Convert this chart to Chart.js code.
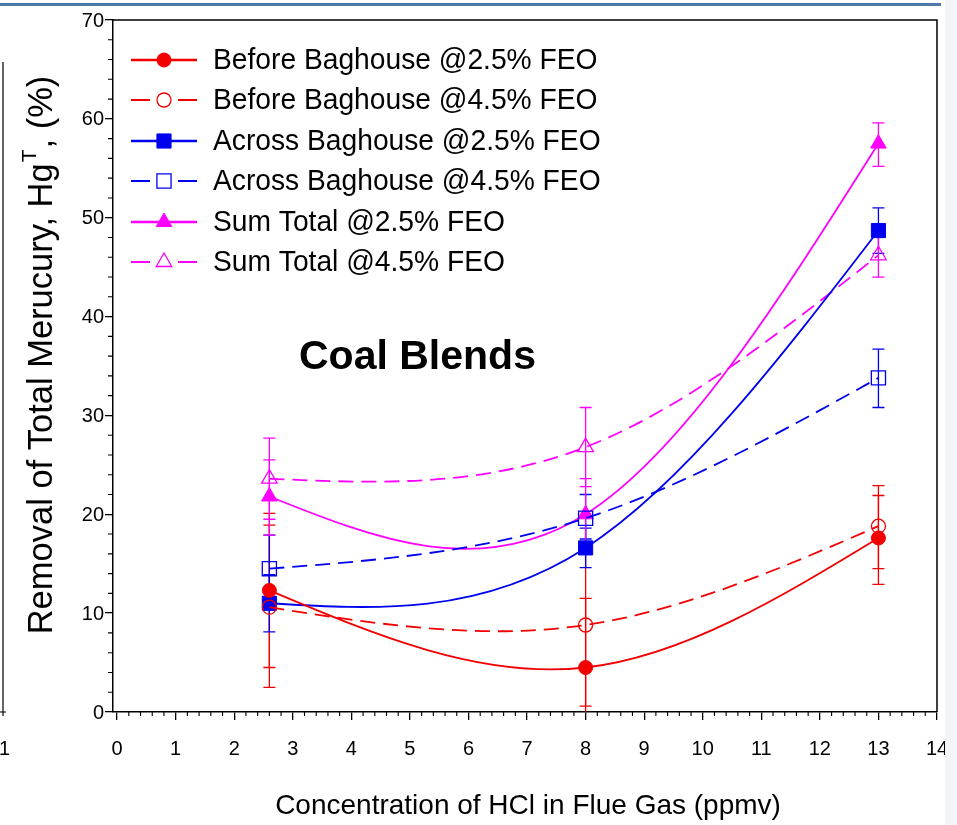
<!DOCTYPE html>
<html><head><meta charset="utf-8">
<script src="https://cdn.jsdelivr.net/npm/chart.js@4.4.1/dist/chart.umd.min.js"></script>
<style>html,body{margin:0;padding:0;background:#fff;overflow:hidden}#wrap{width:957px;height:825px;position:relative}</style>
</head><body><div id="wrap"><canvas id="c" width="957" height="825"></canvas></div>
<script>
// ---- data ----
const hclPpmv = [2.6, 8, 13];

const seriesNames = [
  'Before Baghouse @2.5% FEO',
  'Before Baghouse @4.5% FEO',
  'Across Baghouse @2.5% FEO',
  'Across Baghouse @4.5% FEO',
  'Sum Total @2.5% FEO',
  'Sum Total @4.5% FEO'
];

const beforeBag25     = [12.3, 4.5, 17.6];
const beforeBag25Low  = [4.5, -2.5, 12.9];
const beforeBag25High = [20.1, 11.5, 22.9];

const beforeBag45     = [10.6, 8.8, 18.8];
const beforeBag45Low  = [2.5, 0.6, 14.5];
const beforeBag45High = [18.9, 17.0, 21.9];

const acrossBag25     = [11.0, 16.6, 48.7];
const acrossBag25Low  = [8.1, 14.6, 46.4];
const acrossBag25High = [13.9, 18.6, 51.0];

const acrossBag45     = [14.5, 19.6, 33.8];
const acrossBag45Low  = [11.1, 17.5, 30.8];
const acrossBag45High = [17.9, 22.0, 36.7];

const sumTotal25      = [21.8, 20.0, 57.5];
const sumTotal25Low   = [17.9, 16.4, 55.2];
const sumTotal25High  = [25.5, 23.6, 59.6];

const sumTotal45      = [23.6, 26.8, 46.2];
const sumTotal45Low   = [19.5, 22.8, 44.0];
const sumTotal45High  = [27.7, 30.8, 48.4];

const xTickValues = [0,1,2,3,4,5,6,7,8,9,10,11,12,13,14];
const xTickLabels = ['0','1','2','3','4','5','6','7','8','9','10','11','12','13','14'];
const yTickValues = [0,10,20,30,40,50,60,70];
const yTickLabels = ['0','10','20','30','40','50','60','70'];

const xTitle = 'Concentration of HCl in Flue Gas (ppmv)';
const yTitleMain = 'Removal of Total Merucury, Hg';
const yTitleSup = 'T';
const yTitleEnd = ', (%)';
const annotationText = 'Coal Blends';

// ---- styles ----
const RED = '#f20000', BLUE = '#0000f0', MAG = '#ff00ff';
const FONT = "'Liberation Sans', Arial, sans-serif";
const styles = [
  {color: RED,  dash: [],      pointStyle: 'circle',   radius: 7,  filled: true},
  {color: RED,  dash: [15, 8], pointStyle: 'circle',   radius: 7,  filled: false},
  {color: BLUE, dash: [],      pointStyle: 'rect',     radius: 10, filled: true},
  {color: BLUE, dash: [15, 8], pointStyle: 'rect',     radius: 10, filled: false},
  {color: MAG,  dash: [],      pointStyle: 'triangle', radius: 9,  filled: true},
  {color: MAG,  dash: [15, 8], pointStyle: 'triangle', radius: 9,  filled: false}
];
const seriesValues = [beforeBag25, beforeBag45, acrossBag25, acrossBag45, sumTotal25, sumTotal45];
const seriesLow = [beforeBag25Low, beforeBag45Low, acrossBag25Low, acrossBag45Low, sumTotal25Low, sumTotal45Low];
const seriesHigh = [beforeBag25High, beforeBag45High, acrossBag25High, acrossBag45High, sumTotal25High, sumTotal45High];

const datasets = seriesNames.map((name, k) => {
  const s = styles[k];
  return {
    label: name,
    data: hclPpmv.map((x, i) => ({x: x, y: seriesValues[k][i]})),
    errLow: seriesLow[k],
    errHigh: seriesHigh[k],
    showLine: true,
    tension: 0.4,
    borderColor: s.color,
    borderWidth: 1.8,
    borderDash: s.dash,
    pointStyle: s.pointStyle,
    pointRadius: s.radius,
    pointHoverRadius: s.radius,
    pointBackgroundColor: s.filled ? s.color : 'rgba(0,0,0,0)',
    pointBorderColor: s.color,
    pointBorderWidth: s.filled ? 1 : 1.3,
    fill: false
  };
});

// natural cubic spline through the points (SigmaPlot-style spline curve)
const splinePlugin = {
  id: 'naturalSpline',
  beforeDatasetDraw(chart, args) {
    const meta = args.meta;
    const line = meta.dataset;
    const pts = meta.data;
    if (!line || pts.length < 3) return;
    line.updateControlPoints(chart.chartArea, meta.iScale.axis);
    const n = pts.length;
    const xs = pts.map(p => p.x), ys = pts.map(p => p.y);
    const h = [], d = [];
    for (let i = 0; i < n - 1; i++) { h[i] = xs[i+1] - xs[i]; d[i] = (ys[i+1] - ys[i]) / h[i]; }
    const a = [], b = [], c = [], r = [];
    for (let i = 1; i < n - 1; i++) { a.push(h[i-1]); b.push(2 * (h[i-1] + h[i])); c.push(h[i]); r.push(6 * (d[i] - d[i-1])); }
    const m = b.length;
    for (let i = 1; i < m; i++) { const w = a[i] / b[i-1]; b[i] -= w * c[i-1]; r[i] -= w * r[i-1]; }
    const sol = new Array(m);
    for (let i = m - 1; i >= 0; i--) sol[i] = (r[i] - (i < m - 1 ? c[i] * sol[i+1] : 0)) / b[i];
    const M = new Array(n).fill(0);
    for (let i = 0; i < m; i++) M[i+1] = sol[i];
    const slope = [];
    for (let i = 0; i < n - 1; i++) slope[i] = d[i] - h[i] * (2 * M[i] + M[i+1]) / 6;
    slope[n-1] = d[n-2] + h[n-2] * (M[n-2] + 2 * M[n-1]) / 6;
    for (let i = 0; i < n - 1; i++) {
      pts[i].cp2x = xs[i] + h[i] / 3; pts[i].cp2y = ys[i] + slope[i] * h[i] / 3;
      pts[i+1].cp1x = xs[i+1] - h[i] / 3; pts[i+1].cp1y = ys[i+1] - slope[i+1] * h[i] / 3;
    }
    line._pointsUpdated = true;
    line._path = undefined;
  }
};

const errorBarPlugin = {
  id: 'errorBars',
  beforeDatasetsDraw(chart) {
    const ctx = chart.ctx, area = chart.chartArea;
    const xs = chart.scales.x, ys = chart.scales.y;
    ctx.save();
    ctx.beginPath(); ctx.rect(area.left, area.top, area.right - area.left, area.bottom - area.top); ctx.clip();
    chart.data.datasets.forEach(ds => {
      ctx.strokeStyle = ds.borderColor;
      ctx.lineWidth = 1.3;
      ds.data.forEach((p, i) => {
        const px = xs.getPixelForValue(p.x);
        const lo = ys.getPixelForValue(ds.errLow[i]);
        const hi = ys.getPixelForValue(ds.errHigh[i]);
        ctx.beginPath();
        ctx.moveTo(px, lo); ctx.lineTo(px, hi);
        ctx.moveTo(px - 6, lo); ctx.lineTo(px + 6, lo);
        ctx.moveTo(px - 6, hi); ctx.lineTo(px + 6, hi);
        ctx.stroke();
      });
    });
    ctx.restore();
  }
};

const decorPlugin = {
  id: 'decor',
  afterDraw(chart) {
    const ctx = chart.ctx, area = chart.chartArea;
    const xs = chart.scales.x, ys = chart.scales.y;
    ctx.save();
    // frame top/right
    ctx.strokeStyle = '#000'; ctx.lineWidth = 1.5;
    ctx.beginPath();
    ctx.moveTo(area.left, area.top); ctx.lineTo(area.right, area.top); ctx.lineTo(area.right, area.bottom);
    ctx.stroke();
    // minor ticks
    ctx.lineWidth = 1.1;
    ctx.beginPath();
    for (let i = 1; i < 70; i++) {
      if (i % 5 === 0) continue;
      const px = xs.getPixelForValue(i / 5);
      ctx.moveTo(px, area.bottom); ctx.lineTo(px, area.bottom + 4);
    }
    for (let j = 1; j < 35; j++) {
      if (j % 5 === 0) continue;
      const py = ys.getPixelForValue(j * 2);
      ctx.moveTo(area.left, py); ctx.lineTo(area.left - 5, py);
    }
    ctx.stroke();

    // tick labels
    ctx.fillStyle = '#000';
    ctx.font = '20px ' + FONT; ctx.textBaseline = 'middle';
    ctx.textAlign = 'center';
    xTickValues.forEach((v, i) => {
      ctx.fillText(xTickLabels[i], xs.getPixelForValue(v), 749);
    });
    ctx.textAlign = 'right';
    yTickValues.forEach((v, i) => {
      ctx.fillText(yTickLabels[i], 104, ys.getPixelForValue(v) + 1);
    });

    // y-axis title with superscript
    ctx.save();
    ctx.translate(52, 355);
    ctx.rotate(-Math.PI / 2);
    ctx.textBaseline = 'alphabetic';
    ctx.textAlign = 'left';
    const fMain = '34.5px ' + FONT, fSup = '21px ' + FONT;
    ctx.font = fMain; const w1 = ctx.measureText(yTitleMain).width; const w3 = ctx.measureText(yTitleEnd).width;
    ctx.font = fSup; const w2 = ctx.measureText(yTitleSup).width;
    let x0 = -(w1 + w2 + w3 + 2) / 2;
    ctx.font = fMain; ctx.fillText(yTitleMain, x0, 0);
    ctx.font = fSup; ctx.fillText(yTitleSup, x0 + w1 + 1, -16);
    ctx.font = fMain; ctx.fillText(yTitleEnd, x0 + w1 + w2 + 2, 0);
    ctx.restore();

    // x-axis title
    ctx.font = '28px ' + FONT; ctx.textAlign = 'center'; ctx.textBaseline = 'middle';
    ctx.fillText(xTitle, 528, 806);
    // annotation
    ctx.font = 'bold 41px ' + FONT; ctx.textAlign = 'left'; ctx.textBaseline = 'alphabetic';
    ctx.fillText(annotationText, 299, 369);

    // legend
    const rowY = [60, 100, 141, 181, 222, 262];
    chart.data.datasets.forEach((ds, k) => {
      const y = rowY[k];
      ctx.strokeStyle = ds.borderColor; ctx.lineWidth = ds.borderDash.length ? 1.8 : 2.5;
      ctx.setLineDash([]);
      ctx.beginPath();
      if (ds.borderDash.length) {
        ctx.moveTo(131, y); ctx.lineTo(150, y);
        ctx.moveTo(178, y); ctx.lineTo(197, y);
      } else {
        ctx.moveTo(131, y); ctx.lineTo(197, y);
      }
      ctx.stroke();
      ctx.fillStyle = ds.pointBackgroundColor;
      ctx.strokeStyle = ds.borderColor;
      ctx.lineWidth = ds.pointBorderWidth;
      Chart.helpers.drawPoint(ctx, {pointStyle: ds.pointStyle, radius: ds.pointRadius, borderWidth: ds.pointBorderWidth, rotation: 0}, 164, y);
      ctx.fillStyle = '#000';
      ctx.font = '30px ' + FONT; ctx.textBaseline = 'middle'; ctx.textAlign = 'left';
      ctx.save(); ctx.translate(213, y + 1); ctx.scale(0.94, 1);
      ctx.fillText(ds.label, 0, 0);
      ctx.restore();
    });

    // page decorations around the figure
    ctx.fillStyle = '#4f79a6';
    ctx.fillRect(0, 3, 941, 3);
    ctx.strokeStyle = '#000'; ctx.lineWidth = 1.2;
    ctx.beginPath(); ctx.moveTo(3, 62); ctx.lineTo(3, 716); ctx.moveTo(0, 712); ctx.lineTo(6, 712); ctx.stroke();
    ctx.save(); ctx.beginPath(); ctx.rect(0, 730, 10, 40); ctx.clip();
    ctx.fillStyle = '#000'; ctx.font = '20px ' + FONT; ctx.textAlign = 'left'; ctx.textBaseline = 'middle';
    ctx.fillText('10', -1, 749); ctx.restore();
    ctx.fillStyle = '#f3f5f9';
    ctx.fillRect(945, 0, 12, 825);
    ctx.restore();
  }
};

new Chart(document.getElementById('c'), {
  type: 'scatter',
  data: {datasets: datasets},
  options: {
    responsive: false,
    animation: false,
    layout: {padding: {top: 20, right: 20, left: 0, bottom: 0}},
    plugins: {legend: {display: false}, tooltip: {enabled: false}},
    scales: {
      x: {
        type: 'linear', min: -0.07, max: 14,
        afterBuildTicks: s => { s.ticks = xTickValues.map(v => ({value: v})); },
        afterFit: s => { s.height = 113; },
        ticks: {display: false},
        grid: {drawOnChartArea: false, drawTicks: true, tickLength: 8, color: '#000', lineWidth: 1.3},
        border: {display: true, color: '#000', width: 1.5}
      },
      y: {
        type: 'linear', min: 0, max: 70,
        afterBuildTicks: s => { s.ticks = yTickValues.map(v => ({value: v})); },
        afterFit: s => { s.width = 113; },
        ticks: {display: false},
        grid: {drawOnChartArea: false, drawTicks: true, tickLength: 8, color: '#000', lineWidth: 1.3},
        border: {display: true, color: '#000', width: 1.5}
      }
    }
  },
  plugins: [splinePlugin, errorBarPlugin, decorPlugin]
});
</script></body></html>
